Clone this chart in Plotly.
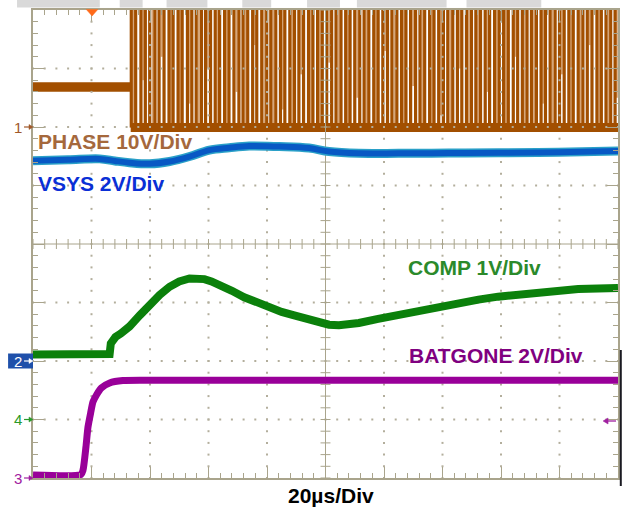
import plotly.graph_objects as go

# ---------------- scope settings ----------------
T_DIV = 20.0          # µs per horizontal division
X_DIVS, Y_DIVS = 10, 8

# channel: (volts per division, ground position in divisions from centre)
PHASE_SCALE, PHASE_GND = 10.0, 2.0
VSYS_SCALE, VSYS_GND = 2.0, -2.0
COMP_SCALE, COMP_GND = 1.0, -3.0
BATGONE_SCALE, BATGONE_GND = 2.0, -4.0

# ---------------- waveforms (time in µs, amplitude in V) ----------------
vsys_t = [0, 12, 22.8, 28, 33.0, 39.9, 46.7, 53.5, 60.3, 67.1, 73.9, 84.2,
          94.4, 101.2, 111.4, 125, 142.1, 159.1, 179.6, 200]
vsys_v = [6.85, 6.88, 6.91, 6.84, 6.78, 6.74, 6.82, 6.99, 7.21, 7.29, 7.35, 7.33,
          7.28, 7.16, 7.10, 7.10, 7.11, 7.12, 7.14, 7.18]

comp_t = [0, 10, 20, 26.2, 26.6, 27.2, 28.2, 30, 33.0, 36.5, 39.9, 43.3, 46.7, 50,
          53.5, 56, 58.6, 61, 63.7, 68, 72.2, 76.5, 80.7, 85, 89.3, 93.5, 97.8,
          101.2, 104.6, 108, 111.4, 118, 125, 132, 138.7, 145.5, 152.3, 159,
          165.9, 172.7, 179.6, 186.4, 193.2, 200]
comp_v = [1.11, 1.11, 1.11, 1.12, 1.30, 1.36, 1.41, 1.47, 1.59, 1.78, 1.97, 2.13, 2.27, 2.36,
          2.41, 2.42, 2.40, 2.36, 2.31, 2.20, 2.09, 2.00, 1.91, 1.84, 1.78, 1.72, 1.66,
          1.62, 1.61, 1.62, 1.65, 1.72, 1.79, 1.86, 1.93, 2.00, 2.05, 2.10,
          2.14, 2.18, 2.21, 2.23, 2.24, 2.25]

batgone_t = [0, 16.4, 17.1, 18.1, 18.8, 19.7, 20.5, 21.7, 23.4, 26.2, 30.7, 40, 200]
batgone_v = [0.10, 0.12, 0.27, 1.06, 1.74, 2.22, 2.60, 2.84, 3.08, 3.25, 3.33, 3.34, 3.34]

# PHASE node: pre-bias level before switching, then switching between low and high rails
phase_pre_t = [0, 33.4]
phase_pre_v = [6.84, 6.84]
phase_low_t = [33.4, 200]
phase_low_v = [-0.1, -0.1]
phase_high_v = 21.0
# switching edges (dense persistence stripes)
phase_edges_t = [33.6, 35.1, 36.9, 38.4, 39.9, 41.7, 43.1, 44.8, 46.5, 47.9, 49.6, 51.0,
                 52.8, 54.3, 55.8, 57.6, 59.0, 60.7, 62.3, 63.8, 65.5, 67.0, 68.7, 70.4,
                 71.8, 73.4, 75.1, 76.5, 78.2, 79.9, 81.3, 83.0, 84.6, 86.1, 87.8, 89.4,
                 90.9, 92.5, 94.2, 95.7, 97.3, 98.9, 100.4, 102.1, 103.6, 105.3, 106.9,
                 108.4, 110.0, 111.7, 113.2, 114.8, 116.5, 118.0, 119.6, 121.2, 122.7,
                 124.4, 126.0, 127.5, 129.1, 130.8, 132.3, 133.9, 135.6, 137.1, 138.7,
                 140.3, 141.8, 143.5, 145.1, 146.6, 148.2, 149.9, 151.4, 153.0, 154.6,
                 156.1, 157.8, 159.4, 160.9, 162.5, 164.2, 165.7, 167.3, 168.9, 170.4,
                 172.1, 173.7, 175.2, 176.8, 178.5, 180.0, 181.6, 183.2, 184.7, 186.4,
                 188.0, 189.5, 191.1, 192.8, 194.3, 195.9, 197.5, 199.0]
# fainter persistence stripes and the level where each one ends
phase_ghost_t = [34.4, 37.7, 41.0, 44.0, 47.2, 50.3, 53.6, 56.7, 59.8, 63.1, 66.2, 69.6,
                 72.6, 75.8, 79.1, 82.1, 85.4, 88.6, 91.7, 95.0, 98.1, 101.3, 104.5,
                 107.7, 110.9, 114.0, 117.3, 120.4, 123.6, 126.8, 130.0, 133.1, 136.4,
                 139.5, 142.7, 145.9, 149.0, 152.2, 155.4, 158.6, 161.7, 164.9, 168.1,
                 171.3, 174.4, 177.6, 180.8, 184.0, 187.2, 190.3, 193.6, 196.7, 199.6]
phase_ghost_v = [0, 8, 0, 12, 0, 0, 4, 0, 10, 0, 0, 6,
                 0, 14, 0, 0, 3, 0, 9, 0, 0, 11, 0,
                 0, 5, 0, 0, 13, 0, 0, 7, 0, 0,
                 2, 0, 10, 0, 0, 6, 0, 0, 12, 0,
                 0, 4, 0, 9, 0, 0, 14, 0, 0, 5]

# ---------------- colours ----------------
GRAT = "#a9a48c"
DOT = "#b3ae9c"
PHASE_DARK = "#a24f00"
PHASE_LIGHT = "#d7a678"
VSYS_C = "#0858c4"
VSYS_EDGE = "#2aa0c8"
COMP_C = "#0b800b"
BAT_C = "#990099"

# plot-area geometry in pixels (for labels drawn in paper space)
W, H = 624, 510
L, R, T, B = 33, 4, 10, 32
PW, PH = W - L - R, H - T - B


def px(x):
    return (x - L) / PW


def py(y):
    return (H - B - y) / PH


def ch_range(scale, gnd):
    return [(-Y_DIVS / 2 - gnd) * scale, (Y_DIVS / 2 - gnd) * scale]


def segments(xs, y0s, y1s):
    sx, sy = [], []
    for x, a, b in zip(xs, y0s, y1s):
        sx += [x, x, None]
        sy += [a, b, None]
    return sx, sy


fig = go.Figure()

# ---- PHASE (base axis, drawn first) ----
gx, gy = segments(phase_ghost_t, phase_ghost_v, [phase_high_v] * len(phase_ghost_t))
fig.add_trace(go.Scatter(x=gx, y=gy, mode="lines", yaxis="y",
                         line=dict(color=PHASE_LIGHT, width=2.0), hoverinfo="skip"))
ex, ey = segments(phase_edges_t, [phase_low_v[0]] * len(phase_edges_t),
                  [phase_high_v] * len(phase_edges_t))
fig.add_trace(go.Scatter(x=ex, y=ey, mode="lines", yaxis="y",
                         line=dict(color=PHASE_DARK, width=3.2), hoverinfo="skip"))
fig.add_trace(go.Scatter(x=phase_low_t, y=phase_low_v, mode="lines", yaxis="y",
                         line=dict(color=PHASE_DARK, width=9), hoverinfo="skip"))
fig.add_trace(go.Scatter(x=phase_pre_t, y=phase_pre_v, mode="lines", yaxis="y",
                         line=dict(color=PHASE_DARK, width=9.5), hoverinfo="skip"))

# ---- graticule (division axis y2) ----
dots_x, dots_y = [], []
for i in range(1, X_DIVS):
    if i == X_DIVS // 2:
        continue
    for k in range(Y_DIVS * 5 + 1):
        dots_x.append(i * T_DIV)
        dots_y.append(-Y_DIVS / 2 + k * 0.2)
for j in range(1, Y_DIVS):
    if j == Y_DIVS // 2:
        continue
    for k in range(X_DIVS * 5 + 1):
        dots_x.append(k * T_DIV / 5)
        dots_y.append(-Y_DIVS / 2 + j)
fig.add_trace(go.Scatter(x=dots_x, y=dots_y, mode="markers", yaxis="y2",
                         marker=dict(symbol="square", size=2, color=DOT),
                         hoverinfo="skip"))

cx, cy = [], []
xc = X_DIVS / 2 * T_DIV
cx += [xc, xc, None, 0, X_DIVS * T_DIV, None]
cy += [-Y_DIVS / 2, Y_DIVS / 2, None, 0, 0, None]
hx = 5 / (PW / (X_DIVS * T_DIV))      # 5 px in µs
hy = 5 / (PH / Y_DIVS)                # 5 px in div
for k in range(Y_DIVS * 5 + 1):
    yy = -Y_DIVS / 2 + k * 0.2
    cx += [xc - hx, xc + hx, None]
    cy += [yy, yy, None]
for k in range(X_DIVS * 5 + 1):
    xx = k * T_DIV / 5
    cx += [xx, xx, None]
    cy += [-hy, hy, None]
fig.add_trace(go.Scatter(x=cx, y=cy, mode="lines", yaxis="y2",
                         line=dict(color=GRAT, width=1), hoverinfo="skip"))

# ---- VSYS ----
fig.add_trace(go.Scatter(x=vsys_t, y=vsys_v, mode="lines", yaxis="y3",
                         line=dict(color=VSYS_EDGE, width=9, shape="spline"),
                         hoverinfo="skip"))
fig.add_trace(go.Scatter(x=vsys_t, y=vsys_v, mode="lines", yaxis="y3",
                         line=dict(color=VSYS_C, width=6, shape="spline"),
                         hoverinfo="skip"))
# ---- COMP ----
fig.add_trace(go.Scatter(x=comp_t, y=comp_v, mode="lines", yaxis="y4",
                         line=dict(color=COMP_C, width=8),
                         hoverinfo="skip"))
# ---- BATGONE ----
fig.add_trace(go.Scatter(x=batgone_t, y=batgone_v, mode="lines", yaxis="y5",
                         line=dict(color=BAT_C, width=7, shape="spline", smoothing=0.6),
                         hoverinfo="skip"))

hidden = dict(visible=False, overlaying="y", fixedrange=True)
fig.update_layout(
    width=W, height=H,
    margin=dict(l=L, r=R, t=T, b=B, pad=0),
    paper_bgcolor="white", plot_bgcolor="white",
    showlegend=False,
    xaxis=dict(range=[0, X_DIVS * T_DIV], showgrid=False, zeroline=False,
               showticklabels=False, showline=True, linecolor=GRAT, linewidth=1.5,
               mirror="ticks", ticks="inside", ticklen=11, tickwidth=1,
               tickcolor=GRAT, tick0=0, dtick=T_DIV,
               minor=dict(ticks="inside", ticklen=5, tickwidth=1, tickcolor=GRAT,
                          dtick=T_DIV / 5, showgrid=False),
               fixedrange=True),
    yaxis=dict(range=ch_range(PHASE_SCALE, PHASE_GND), showgrid=False, zeroline=False,
               showticklabels=False, showline=True, linecolor=GRAT, linewidth=1.5,
               mirror="ticks", ticks="inside", ticklen=11, tickwidth=1,
               tickcolor=GRAT, tick0=0, dtick=PHASE_SCALE,
               minor=dict(ticks="inside", ticklen=5, tickwidth=1, tickcolor=GRAT,
                          dtick=PHASE_SCALE / 5, showgrid=False),
               fixedrange=True),
    yaxis2=dict(range=[-Y_DIVS / 2, Y_DIVS / 2], **hidden),
    yaxis3=dict(range=ch_range(VSYS_SCALE, VSYS_GND), **hidden),
    yaxis4=dict(range=ch_range(COMP_SCALE, COMP_GND), **hidden),
    yaxis5=dict(range=ch_range(BATGONE_SCALE, BATGONE_GND), **hidden),
)

FONT = "Liberation Sans, Arial, sans-serif"
labels = [
    ("PHASE 10V/Div", 37, 141.5, "#a5683c"),
    ("VSYS 2V/Div", 37, 183, "#0a2fd6"),
    ("COMP 1V/Div", 408, 267, "#2b8a2b"),
    ("BATGONE 2V/Div", 409, 355, "#800080"),
]
for text, x, y, col in labels:
    fig.add_annotation(text=f"<b>{text}</b>", xref="paper", yref="paper",
                       x=px(x), y=py(y), xanchor="left", yanchor="middle",
                       showarrow=False, borderpad=0,
                       font=dict(family=FONT, size=21, color=col))
fig.add_annotation(text="<b>20µs/Div</b>", xref="paper", yref="paper",
                   x=px(332), y=py(495), xanchor="center", yanchor="middle",
                   showarrow=False, borderpad=0,
                   font=dict(family=FONT, size=21, color="black"))

shapes = []
# faint watermark lettering above the screen
for x0, x1 in [(17, 100), (120, 143), (167, 208), (243, 272), (308, 341),
               (358, 448), (468, 543)]:
    shapes.append(dict(type="rect", xref="paper", yref="paper",
                       x0=px(x0), x1=px(x1), y0=py(7.5), y1=py(0),
                       fillcolor="#d9d9d9", line=dict(width=0), layer="above"))


def ground_arrow(y, col):
    shapes.append(dict(type="line", xref="paper", yref="paper",
                       x0=px(24), x1=px(31), y0=py(y), y1=py(y),
                       line=dict(color=col, width=1.2)))
    shapes.append(dict(type="path", xref="paper", yref="paper",
                       path=f"M {px(33)},{py(y)} L {px(29)},{py(y - 2.5)} "
                            f"L {px(29)},{py(y + 2.5)} Z",
                       fillcolor=col, line=dict(color=col, width=0.5)))


# channel ground markers
ground_markers = [("1", 127.0, "#a0582a", None),
                  ("2", 361.0, "white", "#1f50aa"),
                  ("4", 419.5, "#2a9a2a", None),
                  ("3", 478.0, "#a020a0", None)]
for name, y, col, box in ground_markers:
    if box:
        shapes.append(dict(type="rect", xref="paper", yref="paper",
                           x0=px(8), x1=px(33), y0=py(368.5), y1=py(353.5),
                           fillcolor=box, line=dict(width=0)))
    fig.add_annotation(text=name, xref="paper", yref="paper", x=px(23), y=py(y),
                       xanchor="right", yanchor="middle", showarrow=False,
                       borderpad=0, font=dict(family=FONT, size=15, color=col))
    ground_arrow(y, col)

# trigger level arrow on the right edge
shapes.append(dict(type="line", xref="paper", yref="paper",
                   x0=px(609), x1=px(618), y0=py(421), y1=py(421),
                   line=dict(color="#a020a0", width=1.3)))
shapes.append(dict(type="path", xref="paper", yref="paper",
                   path=f"M {px(605)},{py(421)} L {px(610)},{py(418)} "
                        f"L {px(610)},{py(424)} Z",
                   fillcolor="#a020a0", line=dict(color="#a020a0", width=0.5)))
# trigger position marker at the top
shapes.append(dict(type="path", xref="paper", yref="paper",
                   path=f"M {px(86.5)},{py(9.5)} L {px(98)},{py(9.5)} "
                        f"L {px(92.3)},{py(16)} Z",
                   fillcolor="#ff6a1a", line=dict(color="#ff6a1a", width=0.5)))
# right bezel edge
shapes.append(dict(type="line", xref="paper", yref="paper",
                   x0=px(622.8), x1=px(622.8), y0=py(486), y1=py(350),
                   line=dict(color="#1a1a22", width=2)))

fig.update_layout(shapes=shapes)
fig.write_html("out.html")
